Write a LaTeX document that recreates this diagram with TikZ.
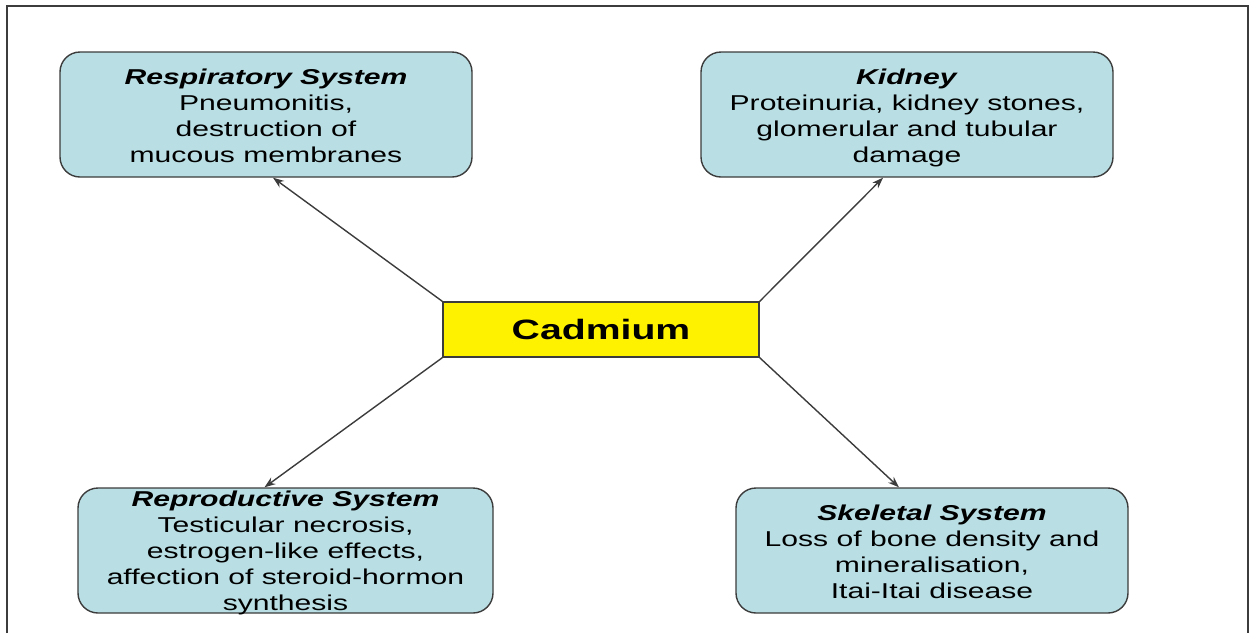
\documentclass[tikz,border=0pt]{standalone}
\usepackage{fontspec}
\setmainfont{Liberation Sans}
\usetikzlibrary{arrows.meta,calc}
\definecolor{boxfill}{RGB}{185,222,227}
\definecolor{edge}{RGB}{60,60,60}
\newcommand{\widetext}[1]{\scalebox{1.4}[1]{\fontsize{21.5}{26}\selectfont\begin{tabular}{@{}c@{}}#1\end{tabular}}}
\tikzset{
  organ/.style={draw=edge, line width=1.4pt, fill=boxfill, rounded corners=20pt, inner sep=0pt},
  txt/.style={inner sep=0pt},
  conn/.style={draw=edge, line width=1.4pt, -{Stealth[length=11pt,width=8pt]}},
  cadbox/.style={draw=edge, line width=1.4pt, fill=yellow, inner sep=0pt, minimum width=316pt, minimum height=55pt}
}
\begin{document}
\begin{tikzpicture}[x=1pt,y=-1pt]
\useasboundingbox (0,0) rectangle (1253,633);
\draw[edge, line width=1.5pt] (7,633) -- (7,6) -- (1248,6) -- (1248,633);
% boxes
\node[organ, minimum width=412pt, minimum height=125pt] (resp) at (266,114.5) {};
\node[organ, minimum width=412pt, minimum height=125pt] (kid) at (907,114.5) {};
\node[organ, minimum width=415pt, minimum height=125pt] (repro) at (285.5,550.5) {};
\node[organ, minimum width=392pt, minimum height=125pt] (skel) at (932,550.5) {};
\node[cadbox] (cad) at (601,329.5) {};
% texts
\node[txt] (resptxt) at ($(resp.center)+(0,3.5)$) {\widetext{\textbf{\textit{Respiratory System}}\\ Pneumonitis,\\ destruction of\\ mucous membranes}};
\node[txt] (kidtxt) at ($(kid.center)+(0,3.5)$) {\widetext{\textbf{\textit{Kidney}}\\ Proteinuria, kidney stones,\\ glomerular and tubular\\ damage}};
\node[txt] (reprotxt) at ($(repro.center)+(0,2.5)$) {\widetext{\textbf{\textit{Reproductive System}}\\ Testicular necrosis,\\ estrogen-like effects,\\ affection of steroid-hormon\\ synthesis}};
\node[txt] (skeltxt) at ($(skel.center)+(0,3.5)$) {\widetext{\textbf{\textit{Skeletal System}}\\ Loss of bone density and\\ mineralisation,\\ Itai-Itai disease}};
\node[txt] (cadtxt) at (cad.center) {\scalebox{1.4}[1]{\fontsize{28}{32}\selectfont\bfseries Cadmium}};
% connectors
\draw[conn] (cad.north west) -- ($(resp.south)+(7,0)$);
\draw[conn] (cad.north east) -- ($(kid.south)+(-24,0)$);
\draw[conn] (cad.south west) -- ($(repro.north)+(-21,0)$);
\draw[conn] (cad.south east) -- ($(skel.north)+(-33,0)$);
\end{tikzpicture}
\end{document}
